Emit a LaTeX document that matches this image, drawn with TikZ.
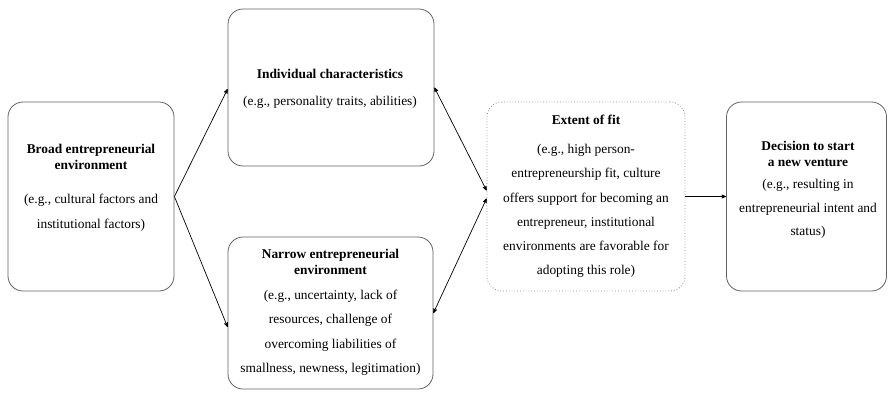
\documentclass[tikz,border=0pt]{standalone}
\usepackage{fontspec}
\setmainfont{Liberation Serif}
\usetikzlibrary{arrows}
\tikzset{
	box/.style={draw=black!62,rounded corners=15pt,line width=0.8pt},
	fit box/.style={box,draw=black!45,dotted},
	txt/.style={align=center,inner sep=0pt,anchor=north,font=\fontsize{13.4}{16}\selectfont}
}

\begin{document}
\begin{tikzpicture}[x=1pt,y=-1pt,->,>=stealth',line width=0.7pt]
            \useasboundingbox (0,0) rectangle (888,392);
            % boxes
            \node [box,minimum width=166,minimum height=189] (b1) at (91,196.5) {};
            \node [box,minimum width=206,minimum height=157] (b2) at (331,87.5) {};
            \node [box,minimum width=205,minimum height=152] (b3) at (330.5,313) {};
            \node [fit box,minimum width=198,minimum height=189] (b4) at (586,196.5) {};
            \node [box,minimum width=160,minimum height=189] (b5) at (806.5,196.5) {};
            % texts
            \node [txt] (t1) at (91,144) {\textbf{Broad entrepreneurial}\\\textbf{environment}\\[18pt]
              (e.g., cultural factors and\\[9pt]institutional factors)};
            \node [txt] (t2) at (330,69) {\textbf{Individual characteristics}\\[11pt]
              (e.g., personality traits, abilities)};
            \node [txt] (t3) at (330.5,249) {\textbf{Narrow entrepreneurial}\\\textbf{environment}\\[9pt]
              (e.g., uncertainty, lack of\\[8.3pt]resources, challenge of\\[8.3pt]
              overcoming liabilities of\\[8.3pt]smallness, newness, legitimation)};
            \node [txt] (t4) at (586,115) {\textbf{Extent of fit}\\[13pt]
              (e.g., high person-\\[8.2pt]entrepreneurship fit, culture\\[8.2pt]
              offers support for becoming an\\[8.2pt]entrepreneur, institutional\\[8.2pt]
              environments are favorable for\\[8.2pt]adopting this role)};
            \node [txt] (t5) at (808,141) {\textbf{Decision to start}\\\textbf{a new venture}\\[6pt]
              (e.g., resulting in\\[7.5pt]entrepreneurial intent and\\[7.5pt]status)};
            % connectors
            \draw (b1.east) -- ([yshift=-1.5pt]b2.west);
            \draw (b1.east) -- ([yshift=-14pt]b3.west);
            \draw [<->] ([yshift=6pt]b4.west) -- (b2.east);
            \draw [<->] ([yshift=-2pt]b4.west) -- (b3.east);
            \draw (b4) -- (b5);
\end{tikzpicture}
\end{document}
